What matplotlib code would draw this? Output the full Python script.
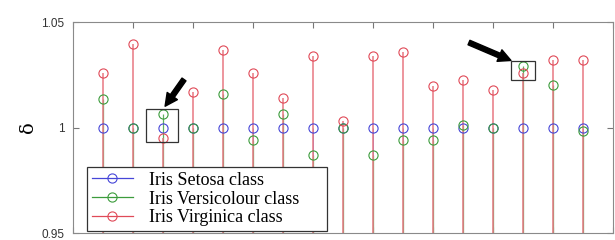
import numpy as np
import matplotlib
matplotlib.use("Agg")
import matplotlib.pyplot as plt
from matplotlib.legend_handler import HandlerLine2D
from matplotlib.patches import Rectangle
from matplotlib.lines import Line2D

samples = list(range(1, 18))
setosa = [1.0] * 17
versicolour = [1.0137, 1.0, 1.0066, 1.0, 1.0158, 0.994, 1.0063, 0.987, 1.0,
               0.987, 0.994, 0.994, 1.0012, 1.0, 1.029, 1.02, 0.9984]
virginica = [1.0257, 1.0395, 0.9949, 1.017, 1.0367, 1.0257, 1.0142, 1.0339,
             1.0031, 1.0339, 1.036, 1.0197, 1.0225, 1.018, 1.0258, 1.0318, 1.032]
labels = ["Iris Setosa class", "Iris Versicolour class", "Iris Virginica class"]
marker_colors = ["#4646d8", "#3c9c3c", "#e04a58"]
stem_colors = ["#7070e0", "#60b060", "#e87882"]
stem_widths = [0.6, 0.9, 1.1]

fig = plt.figure(figsize=(6.15, 2.4), dpi=100)
ax = fig.add_axes([0.1187, 0.029, 0.878, 0.879])

for i, (vals, mc, sc, lab, lw) in enumerate(zip(
        [setosa, versicolour, virginica], marker_colors, stem_colors,
        labels, stem_widths)):
    ml, sl, bl = ax.stem(samples, vals, bottom=0, label=lab)
    plt.setp(sl, color=sc, linewidth=lw, zorder=2 + i * 0.1)
    plt.setp(ml, color=mc, marker='o', markerfacecolor='none',
             markeredgecolor=mc, markersize=6.6, markeredgewidth=0.8,
             zorder=3 + i * 0.1)
    bl.set_visible(False)

ax.set_xlim(0, 18)
ax.set_ylim(0.95, 1.05)
ax.set_yticks([0.95, 1.0, 1.05])
ax.set_yticklabels(["0.95", "1", "1.05"], fontfamily="Liberation Sans",
                   fontsize=8.5, color="#333333")
ax.set_xticks(np.arange(0, 19, 2))
ax.tick_params(axis='x', direction='in', top=True, bottom=True,
               labelbottom=False, length=4, color="#777777")
ax.tick_params(axis='y', direction='in', left=True, right=True,
               length=4, color="#777777", pad=6)
for s in ax.spines.values():
    s.set_color("#8a8a8a")
    s.set_linewidth(0.8)

ax.set_ylabel("δ", fontfamily="DejaVu Serif", fontsize=14, labelpad=3)

# annotation boxes
ax.add_patch(Rectangle((2.43, 0.9930), 1.07, 0.016, fill=False,
                       edgecolor="#333333", linewidth=0.9, zorder=5))
ax.add_patch(Rectangle((14.6, 1.0224), 0.8, 0.0090, fill=False,
                       edgecolor="#333333", linewidth=0.9, zorder=5))
arrow_style = "simple,head_width=0.9,head_length=0.9,tail_width=0.35"
ax.annotate("", xy=(3.07, 1.0101), xytext=(3.7, 1.0228),
            arrowprops=dict(arrowstyle=arrow_style, color="black",
                            mutation_scale=10, shrinkA=0, shrinkB=0))
ax.annotate("", xy=(14.6, 1.0318), xytext=(13.2, 1.0403),
            arrowprops=dict(arrowstyle=arrow_style, color="black",
                            mutation_scale=10, shrinkA=0, shrinkB=0))


class EndMarkerHandler(HandlerLine2D):
    def get_xdata(self, legend, xdescent, ydescent, width, height, fontsize):
        xdata = np.array([-xdescent, -xdescent + width])
        return xdata, np.array([-xdescent + width])


proxies = [Line2D([0], [0], color=c, linewidth=0.9, marker='o',
                  markerfacecolor='none', markeredgecolor=c, markersize=6.6,
                  markeredgewidth=0.8) for c in marker_colors]
leg = ax.legend(proxies, labels, loc='lower left', mode='expand',
                bbox_to_anchor=(0.026, 0.01, 0.4444, 0.3), borderaxespad=0,
                prop={'family': 'Liberation Serif', 'size': 13},
                handler_map={Line2D: EndMarkerHandler()},
                handlelength=2.3, handletextpad=0.9, labelspacing=0.1,
                borderpad=0.25, fancybox=False, framealpha=1,
                edgecolor="#333333")
leg.get_frame().set_linewidth(0.9)
leg.set_zorder(10)

fig.savefig("out.png", dpi=100)
